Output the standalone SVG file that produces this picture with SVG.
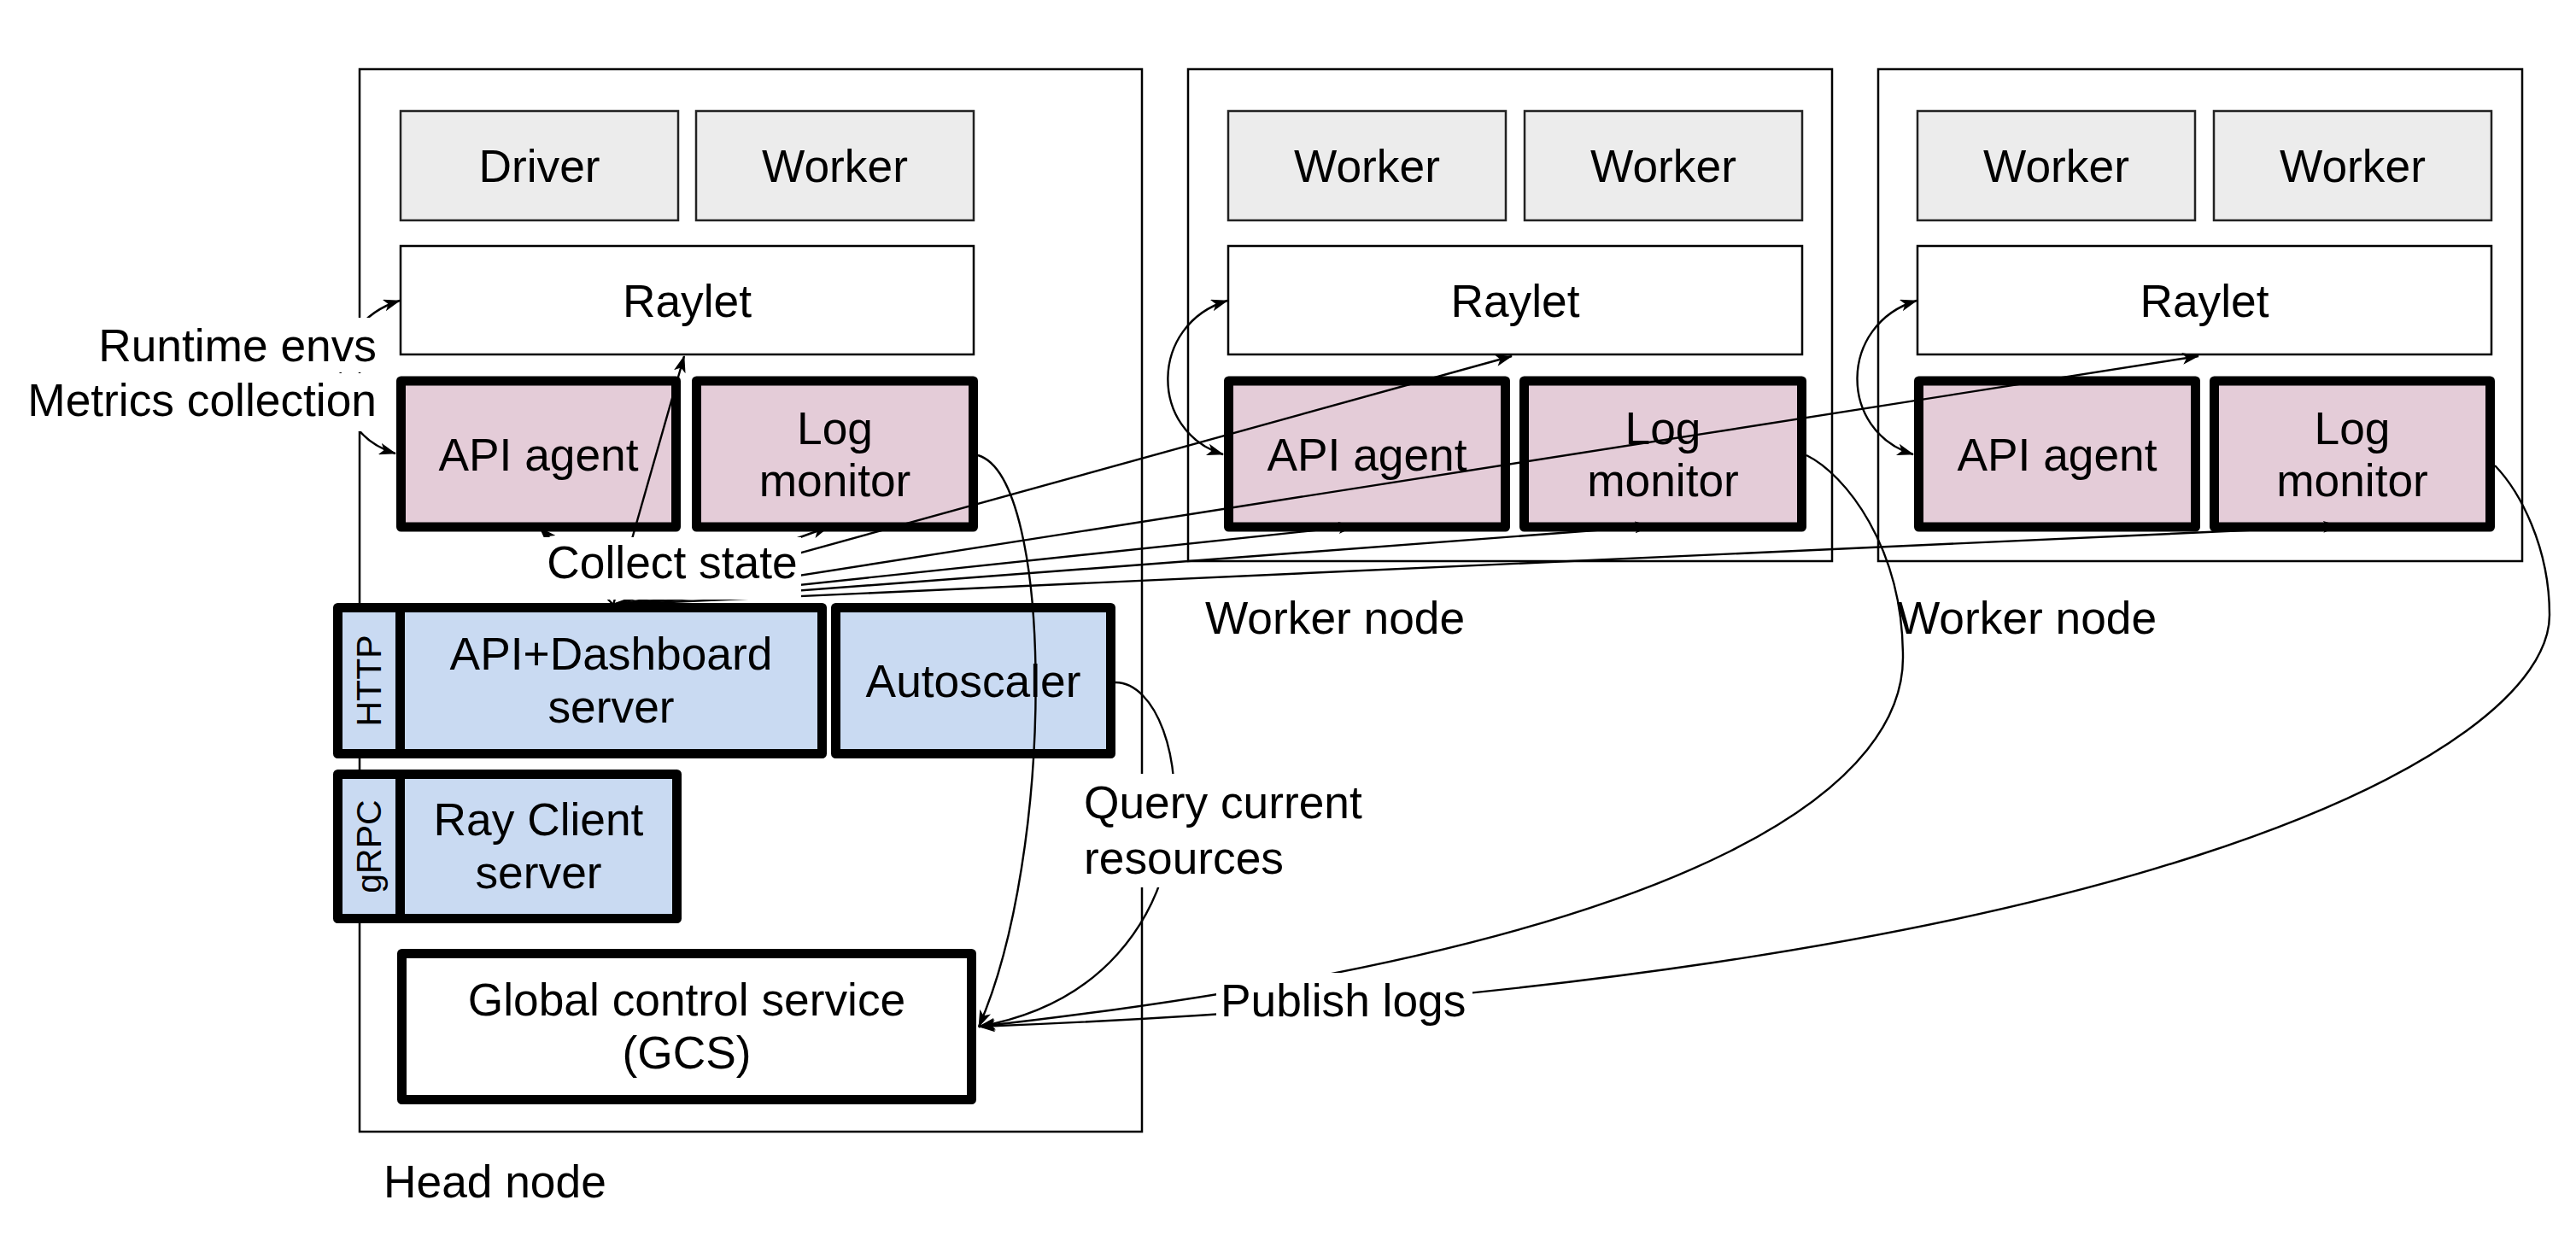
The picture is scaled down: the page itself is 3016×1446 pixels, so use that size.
<svg xmlns="http://www.w3.org/2000/svg" width="3016" height="1446" viewBox="0 0 3016 1446">
<defs>
<style>
text{font-family:"Liberation Sans",Arial,Helvetica,sans-serif;font-size:53.3px;fill:#000}
.c{text-anchor:middle}
.e{text-anchor:end}
.node{fill:#fff;stroke:#000;stroke-width:2.5}
.gray{fill:#ececec;stroke:#222;stroke-width:2.5}
.plain{fill:#fff;stroke:#000;stroke-width:2.5}
.pink{fill:#e4ccd8;stroke:#000;stroke-width:11;stroke-linejoin:round}
.blue{fill:#c9daf2;stroke:#000;stroke-width:11;stroke-linejoin:round}
.thickw{fill:#fff;stroke:#000;stroke-width:11;stroke-linejoin:round}
.conn{fill:none;stroke:#000;stroke-width:2.4}
.lbl{fill:#fff}
.small{font-size:41px}
</style>
<marker id="ah" markerUnits="userSpaceOnUse" markerWidth="20" markerHeight="14" refX="19" refY="7" orient="auto-start-reverse" viewBox="0 0 20 14"><path d="M0,0 L20,7 L0,14 L5,7 z" fill="#000"/></marker>
</defs>
<rect width="3016" height="1446" fill="#fff"/>

<g id="head-node">
<rect class="node" x="421" y="81" width="916" height="1244"/>
<text x="449" y="1402">Head node</text>
</g>
<g id="worker-node-1">
<rect class="node" x="1391" y="81" width="754" height="576"/>
<text x="1411" y="742">Worker node</text>
</g>
<g id="worker-node-2">
<rect class="node" x="2199" y="81" width="754" height="576"/>
<text x="2221" y="742">Worker node</text>
</g>

<g id="head-driver"><rect class="gray" x="469" y="130" width="325" height="128"/><text class="c" x="631.5" y="213">Driver</text></g>
<g id="head-worker"><rect class="gray" x="815" y="130" width="325" height="128"/><text class="c" x="977.5" y="213">Worker</text></g>
<g id="head-raylet"><rect class="plain" x="469" y="288" width="671" height="127"/><text class="c" x="804.5" y="371">Raylet</text></g>
<g id="head-api-agent"><rect class="pink" x="469.5" y="446" width="322" height="171"/><text class="c" x="630.5" y="551">API agent</text></g>
<g id="head-log-monitor"><rect class="pink" x="815.5" y="446" width="324" height="171"/><text class="c" x="977.5" y="520">Log</text><text class="c" x="977.5" y="581">monitor</text></g>

<g id="http-tab"><rect class="blue" x="395.5" y="711.5" width="73" height="171"/><text class="small c" transform="translate(446,797) rotate(-90)">HTTP</text></g>
<g id="api-dashboard-server"><rect class="blue" x="468.5" y="711.5" width="494" height="171"/><text class="c" x="715.5" y="784">API+Dashboard</text><text class="c" x="715.5" y="846">server</text></g>
<g id="autoscaler"><rect class="blue" x="978.5" y="711.5" width="322" height="171"/><text class="c" x="1139.5" y="816">Autoscaler</text></g>
<g id="grpc-tab"><rect class="blue" x="395.5" y="906.5" width="73" height="169"/><text class="small c" transform="translate(446,991) rotate(-90)">gRPC</text></g>
<g id="ray-client-server"><rect class="blue" x="468.5" y="906.5" width="324" height="169"/><text class="c" x="630.5" y="978">Ray Client</text><text class="c" x="630.5" y="1040">server</text></g>
<g id="gcs"><rect class="thickw" x="470.5" y="1116.5" width="667" height="171"/><text class="c" x="804" y="1189">Global control service</text><text class="c" x="804" y="1251">(GCS)</text></g>

<g id="w1-worker-a"><rect class="gray" x="1438" y="130" width="325" height="128"/><text class="c" x="1600.5" y="213">Worker</text></g>
<g id="w1-worker-b"><rect class="gray" x="1785" y="130" width="325" height="128"/><text class="c" x="1947.5" y="213">Worker</text></g>
<g id="w1-raylet"><rect class="plain" x="1438" y="288" width="672" height="127"/><text class="c" x="1774" y="371">Raylet</text></g>
<g id="w1-api-agent"><rect class="pink" x="1438.5" y="446" width="324" height="171"/><text class="c" x="1600.5" y="551">API agent</text></g>
<g id="w1-log-monitor"><rect class="pink" x="1784.5" y="446" width="325" height="171"/><text class="c" x="1947" y="520">Log</text><text class="c" x="1947" y="581">monitor</text></g>

<g id="w2-worker-a"><rect class="gray" x="2245" y="130" width="325" height="128"/><text class="c" x="2407.5" y="213">Worker</text></g>
<g id="w2-worker-b"><rect class="gray" x="2592" y="130" width="325" height="128"/><text class="c" x="2754.5" y="213">Worker</text></g>
<g id="w2-raylet"><rect class="plain" x="2245" y="288" width="672" height="127"/><text class="c" x="2581" y="371">Raylet</text></g>
<g id="w2-api-agent"><rect class="pink" x="2246.5" y="446" width="324" height="171"/><text class="c" x="2408.5" y="551">API agent</text></g>
<g id="w2-log-monitor"><rect class="pink" x="2592.5" y="446" width="323" height="171"/><text class="c" x="2754" y="520">Log</text><text class="c" x="2754" y="581">monitor</text></g>

<g id="connectors">
<path class="conn" marker-start="url(#ah)" marker-end="url(#ah)" d="M468,352 C376,380 376,505 463,531"/>
<path class="conn" marker-start="url(#ah)" marker-end="url(#ah)" d="M1437,352 C1345,380 1345,505 1432,532"/>
<path class="conn" marker-start="url(#ah)" marker-end="url(#ah)" d="M2244,352 C2152,380 2152,505 2240,532"/>
<path class="conn" marker-end="url(#ah)" d="M718,708 L632,618"/>
<path class="conn" marker-end="url(#ah)" d="M718,708 L801,417"/>
<path class="conn" marker-end="url(#ah)" d="M718,708 L970,617"/>
<path class="conn" marker-end="url(#ah)" d="M718,708 L1586,616"/>
<path class="conn" marker-end="url(#ah)" d="M718,708 L1770,417"/>
<path class="conn" marker-end="url(#ah)" d="M718,708 L1933,616"/>
<path class="conn" marker-end="url(#ah)" d="M718,708 L2574,417"/>
<path class="conn" marker-end="url(#ah)" d="M718,708 L2739,616"/>
<path class="conn" marker-end="url(#ah)" d="M1145,533 C1235,560 1235,1000 1146,1202"/>
<path class="conn" marker-end="url(#ah)" d="M1306,799 C1400,800 1440,1150 1146,1202"/>
<path class="conn" marker-end="url(#ah)" d="M2115,533 C2160,555 2228,640 2228,770 C2228,900 2050,1100 1146,1202"/>
<path class="conn" marker-end="url(#ah)" d="M2921,545 C2950,575 2985,640 2985,720 C2985,880 2500,1150 1146,1202"/>
</g>

<g id="labels">
<rect class="lbl" x="105" y="372" width="343" height="64"/>
<text class="e" x="441" y="423">Runtime envs</text>
<rect class="lbl" x="25" y="437" width="423" height="68"/>
<text class="e" x="441" y="487">Metrics collection</text>
<rect class="lbl" x="632" y="629" width="306" height="73"/>
<text class="c" x="787" y="677">Collect state</text>
<rect class="lbl" x="1262" y="906" width="340" height="66"/>
<text x="1269" y="958">Query current</text>
<rect class="lbl" x="1262" y="972" width="250" height="67"/>
<text x="1269" y="1023">resources</text>
<rect class="lbl" x="1424" y="1139" width="300" height="70"/>
<text x="1429" y="1190">Publish logs</text>
</g>
</svg>
